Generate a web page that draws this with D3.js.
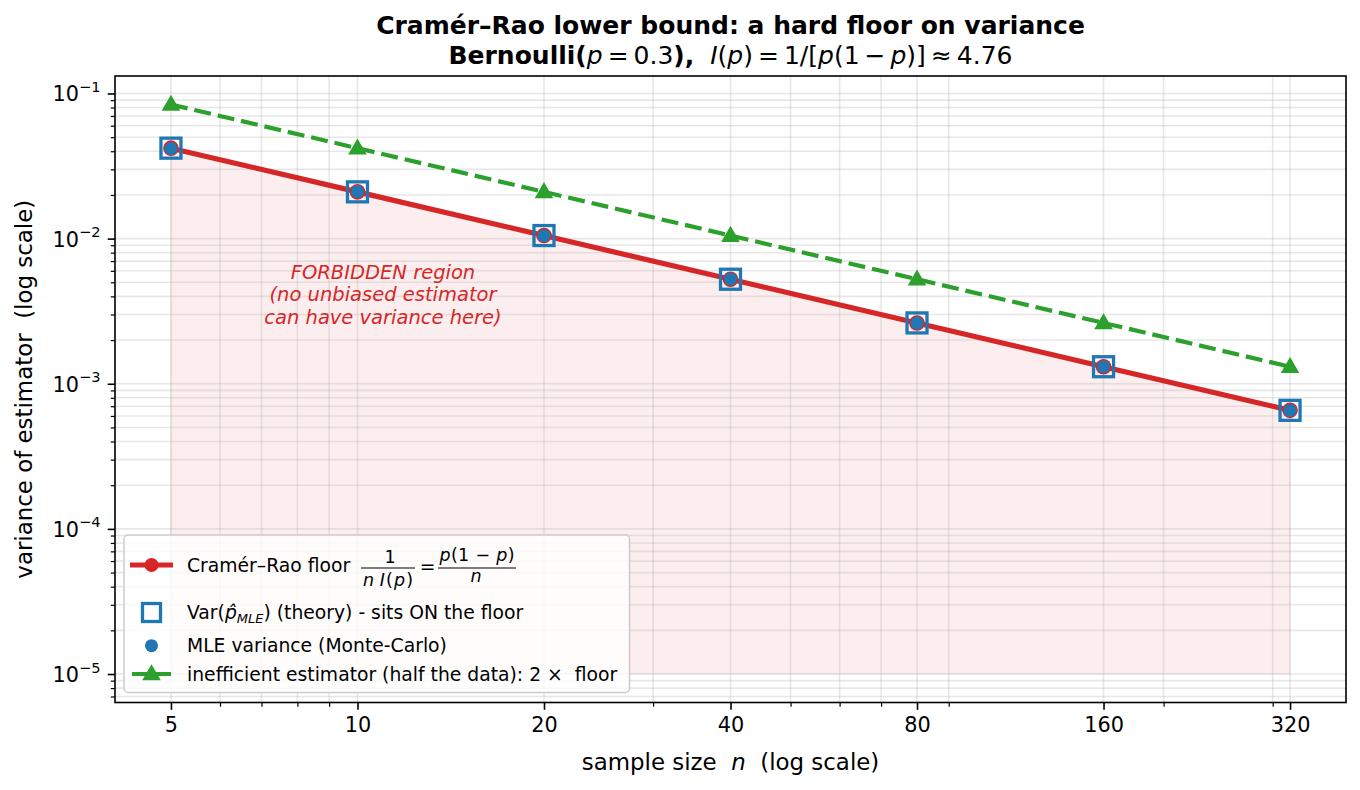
<!DOCTYPE html>
<html>
<head>
<meta charset="utf-8">
<script src="https://cdn.jsdelivr.net/npm/d3@7"></script>
<style>
  body { margin: 0; background: #fff; }
  svg { display: block; font-family: "DejaVu Sans", sans-serif; }
  text { white-space: pre; }
</style>
</head>
<body>
<script>
// values
var sampleSizes = [5, 10, 20, 40, 80, 160, 320];
var floorVariance = [0.042, 0.021, 0.0105, 0.00525, 0.002625, 0.00131, 0.000656];
var theoryVariance = [0.042, 0.021, 0.0105, 0.00525, 0.002625, 0.00131, 0.000656];
var monteCarloVariance = [0.0417, 0.0211, 0.01048, 0.00526, 0.00262, 0.00131, 0.000655];
var inefficientVariance = [0.084, 0.042, 0.021, 0.0105, 0.00525, 0.002625, 0.00131];
var forbiddenBottom = 1e-5;
var xTickLabels = ["5", "10", "20", "40", "80", "160", "320"];
var yTickExponents = [-1, -2, -3, -4, -5];

var RED = "#d62728", BLUE = "#1f77b4", GREEN = "#2ca02c";

var svgWidth = 1360, svgHeight = 790;
var plot = { left: 115, right: 1346, top: 76, bottom: 702.5 };

var svg = d3.select("body").append("svg")
    .attr("width", svgWidth)
    .attr("height", svgHeight);

// log axes with a 5% margin (in log space) like matplotlib
var xLo = d3.min(sampleSizes), xHi = d3.max(sampleSizes);
var xPad = 0.05 * (Math.log2(xHi) - Math.log2(xLo));
var x = d3.scaleLog().base(2)
    .domain([xLo / Math.pow(2, xPad), xHi * Math.pow(2, xPad)])
    .range([plot.left, plot.right]);

var yLo = forbiddenBottom, yHi = d3.max(inefficientVariance);
var yPad = 0.05 * (Math.log10(yHi) - Math.log10(yLo));
var y = d3.scaleLog()
    .domain([yLo / Math.pow(10, yPad), yHi * Math.pow(10, yPad)])
    .range([plot.bottom, plot.top]);

var floorData = sampleSizes.map((n, i) => ({ n: n, v: floorVariance[i] }));
var theoryData = sampleSizes.map((n, i) => ({ n: n, v: theoryVariance[i] }));
var mcData = sampleSizes.map((n, i) => ({ n: n, v: monteCarloVariance[i] }));
var ineffData = sampleSizes.map((n, i) => ({ n: n, v: inefficientVariance[i] }));

// minor tick positions (2..9 per decade)
var xMinor = [], yMinor = [];
for (var e = 0; e <= 3; e++) {
  for (var k = 2; k <= 9; k++) {
    var v = k * Math.pow(10, e);
    if (v > x.domain()[0] && v < x.domain()[1] && sampleSizes.indexOf(v) < 0) xMinor.push(v);
  }
}
for (var e2 = -6; e2 <= -1; e2++) {
  for (var k2 = 2; k2 <= 9; k2++) {
    var w = k2 * Math.pow(10, e2);
    if (w > y.domain()[0] && w < y.domain()[1]) yMinor.push(w);
  }
}
var yMajor = yTickExponents.map(p => Math.pow(10, p));

// forbidden region (below the floor)
var area = d3.area()
    .x(d => x(d.n))
    .y0(y(forbiddenBottom))
    .y1(d => y(d.v));
svg.append("path")
    .datum(floorData)
    .attr("d", area)
    .attr("fill", RED)
    .attr("fill-opacity", 0.08)
    .attr("stroke", RED)
    .attr("stroke-opacity", 0.08)
    .attr("stroke-width", 1.5);

// grid, major and minor
var grid = svg.append("g").attr("stroke", "#b0b0b0").attr("stroke-opacity", 0.3).attr("stroke-width", 1.6);
grid.selectAll(".gx").data(sampleSizes.concat(xMinor)).enter().append("line")
    .attr("x1", d => x(d)).attr("x2", d => x(d))
    .attr("y1", plot.top).attr("y2", plot.bottom);
grid.selectAll(".gy").data(yMajor.concat(yMinor)).enter().append("line")
    .attr("y1", d => y(d)).attr("y2", d => y(d))
    .attr("x1", plot.left).attr("x2", plot.right);

// annotation
var note = svg.append("text")
    .attr("text-anchor", "middle")
    .attr("font-size", 19.5)
    .attr("font-style", "italic")
    .attr("fill", RED);
["FORBIDDEN region", "(no unbiased estimator", "can have variance here)"].forEach(function (s, i) {
  note.append("tspan").attr("x", 383).attr("y", 279 + i * 22.3).text(s);
});

var line = d3.line().x(d => x(d.n)).y(d => y(d.v));

// inefficient estimator
svg.append("path")
    .datum(ineffData)
    .attr("d", line)
    .attr("fill", "none")
    .attr("stroke", GREEN)
    .attr("stroke-width", 4.2)
    .attr("stroke-dasharray", "17,7");
var tri = d3.symbol().type(d3.symbolTriangle).size(150);
svg.selectAll(".tri").data(ineffData).enter().append("path")
    .attr("d", tri)
    .attr("transform", d => `translate(${x(d.n)},${y(d.v) + 1})`)
    .attr("fill", GREEN);

// Cramer-Rao floor
svg.append("path")
    .datum(floorData)
    .attr("d", line)
    .attr("fill", "none")
    .attr("stroke", RED)
    .attr("stroke-width", 5.2);
svg.selectAll(".fc").data(floorData).enter().append("circle")
    .attr("cx", d => x(d.n)).attr("cy", d => y(d.v))
    .attr("r", 7.8)
    .attr("fill", RED);

// theory squares
svg.selectAll(".sq").data(theoryData).enter().append("rect")
    .attr("x", d => x(d.n) - 10).attr("y", d => y(d.v) - 10)
    .attr("width", 20).attr("height", 20)
    .attr("fill", "none")
    .attr("stroke", BLUE)
    .attr("stroke-width", 3.3);

// Monte-Carlo dots
svg.selectAll(".mc").data(mcData).enter().append("circle")
    .attr("cx", d => x(d.n)).attr("cy", d => y(d.v))
    .attr("r", 6.5)
    .attr("fill", BLUE);

// axes
var xAxis = svg.append("g")
    .attr("transform", `translate(0,${plot.bottom})`)
    .call(d3.axisBottom(x).tickValues(sampleSizes).tickSize(7.3).tickPadding(7)
        .tickFormat((d, i) => xTickLabels[i]));
var xMinorAxis = svg.append("g")
    .attr("transform", `translate(0,${plot.bottom})`)
    .call(d3.axisBottom(x).tickValues(xMinor).tickSize(4.2).tickFormat(""));
var yAxis = svg.append("g")
    .attr("transform", `translate(${plot.left},0)`)
    .call(d3.axisLeft(y).tickValues(yMajor).tickSize(7.3).tickFormat(""));
var yMinorAxis = svg.append("g")
    .attr("transform", `translate(${plot.left},0)`)
    .call(d3.axisLeft(y).tickValues(yMinor).tickSize(4.2).tickFormat(""));

[xAxis, xMinorAxis, yAxis, yMinorAxis].forEach(function (g) {
  g.select(".domain").remove();
  g.selectAll("line").attr("stroke", "#000");
});
xAxis.selectAll("line").attr("stroke-width", 1.6);
yAxis.selectAll("line").attr("stroke-width", 1.6);
xMinorAxis.selectAll("line").attr("stroke-width", 1.2);
yMinorAxis.selectAll("line").attr("stroke-width", 1.2);
xAxis.selectAll("text")
    .attr("font-family", "DejaVu Sans")
    .attr("font-size", 20.8)
    .attr("fill", "#000");

// y tick labels as 10^k
yTickExponents.forEach(function (p) {
  var t = svg.append("text")
      .attr("x", 100.5)
      .attr("y", y(Math.pow(10, p)) + 8)
      .attr("text-anchor", "end")
      .attr("font-size", 20.8);
  t.append("tspan").text("10");
  t.append("tspan").attr("dy", -9.5).attr("font-size", 14.6).text("\u2212" + Math.abs(p));
});

// frame
svg.append("rect")
    .attr("x", plot.left).attr("y", plot.top)
    .attr("width", plot.right - plot.left)
    .attr("height", plot.bottom - plot.top)
    .attr("fill", "none")
    .attr("stroke", "#000")
    .attr("stroke-width", 1.6);

// axis labels
var xl = svg.append("text")
    .attr("x", (plot.left + plot.right) / 2)
    .attr("y", 770)
    .attr("text-anchor", "middle")
    .attr("font-size", 22.9);
xl.append("tspan").text("sample size  ");
xl.append("tspan").attr("font-style", "italic").text("n");
xl.append("tspan").text("  (log scale)");

svg.append("text")
    .attr("transform", `translate(32,${(plot.top + plot.bottom) / 2}) rotate(-90)`)
    .attr("text-anchor", "middle")
    .attr("font-size", 22.9)
    .text("variance of estimator  (log scale)");

// title
svg.append("text")
    .attr("x", (plot.left + plot.right) / 2)
    .attr("y", 34)
    .attr("text-anchor", "middle")
    .attr("font-size", 25)
    .attr("font-weight", "bold")
    .text("Cram\u00e9r\u2013Rao lower bound: a hard floor on variance");

var t2 = svg.append("text")
    .attr("x", (plot.left + plot.right) / 2)
    .attr("y", 64)
    .attr("text-anchor", "middle")
    .attr("font-size", 25);
[["Bernoulli(", "b"], ["p", "i"], ["\u2009=\u20090.3", "n"], ["),", "b"], ["  ", "n"],
 ["I", "i"], ["(", "n"], ["p", "i"], [")\u2009=\u20091/[", "n"], ["p", "i"], ["(1\u2009\u2212\u2009", "n"],
 ["p", "i"], [")]\u2009\u2248\u20094.76", "n"]].forEach(function (s) {
  var ts = t2.append("tspan").text(s[0]);
  if (s[1] === "b") ts.attr("font-weight", "bold");
  if (s[1] === "i") ts.attr("font-style", "italic");
});

// legend
var leg = svg.append("g");
leg.append("rect")
    .attr("x", 124).attr("y", 535)
    .attr("width", 505.5).attr("height", 157.5)
    .attr("rx", 4)
    .attr("fill", "#fff").attr("fill-opacity", 0.8)
    .attr("stroke", "#cccccc").attr("stroke-width", 1.5);

var hx = 151.5, tx = 187;
// row 1 : floor
leg.append("line").attr("x1", 130).attr("x2", 173).attr("y1", 565).attr("y2", 565)
    .attr("stroke", RED).attr("stroke-width", 5.2);
leg.append("circle").attr("cx", hx).attr("cy", 565).attr("r", 7).attr("fill", RED);
leg.append("text").attr("x", tx).attr("y", 572).attr("font-size", 18.75).text("Cram\u00e9r\u2013Rao floor");
var fs = 17.5;
leg.append("text").attr("x", 390).attr("y", 563).attr("text-anchor", "middle").attr("font-size", fs).text("1");
leg.append("line").attr("x1", 361).attr("x2", 415).attr("y1", 568).attr("y2", 568).attr("stroke", "#000").attr("stroke-width", 1.1);
var den = leg.append("text").attr("x", 388).attr("y", 586).attr("text-anchor", "middle").attr("font-size", fs)
    .attr("textLength", 50).attr("lengthAdjust", "spacing");
den.append("tspan").attr("font-style", "italic").text("n\u2009");
den.append("tspan").attr("font-style", "italic").text("I");
den.append("tspan").text("(");
den.append("tspan").attr("font-style", "italic").text("p");
den.append("tspan").text(")");
leg.append("text").attr("x", 427.5).attr("y", 573).attr("text-anchor", "middle").attr("font-size", 18.75).text("=");
var num = leg.append("text").attr("x", 477).attr("y", 561).attr("text-anchor", "middle").attr("font-size", fs)
    .attr("textLength", 75).attr("lengthAdjust", "spacing");
num.append("tspan").attr("font-style", "italic").text("p");
num.append("tspan").text("(1 \u2212 ");
num.append("tspan").attr("font-style", "italic").text("p");
num.append("tspan").text(")");
leg.append("line").attr("x1", 438).attr("x2", 516).attr("y1", 568).attr("y2", 568).attr("stroke", "#000").attr("stroke-width", 1.1);
leg.append("text").attr("x", 476).attr("y", 582).attr("text-anchor", "middle").attr("font-size", fs).attr("font-style", "italic").text("n");

// row 2 : theory square
leg.append("rect").attr("x", hx - 9).attr("y", 612.5 - 9).attr("width", 18).attr("height", 18)
    .attr("fill", "none").attr("stroke", BLUE).attr("stroke-width", 3.3);
var r2 = leg.append("text").attr("x", tx).attr("y", 619).attr("font-size", 18.75);
r2.append("tspan").text("Var(");
r2.append("tspan").attr("font-style", "italic").text("p\u0302");
r2.append("tspan").attr("font-style", "italic").attr("font-size", 13).attr("dy", 4).text("MLE");
r2.append("tspan").attr("dy", -4).text(") (theory) - sits ON the floor");

// row 3 : MC dot
leg.append("circle").attr("cx", hx).attr("cy", 645.7).attr("r", 6.5).attr("fill", BLUE);
leg.append("text").attr("x", tx).attr("y", 652).attr("font-size", 18.75).text("MLE variance (Monte-Carlo)");

// row 4 : inefficient
leg.append("line").attr("x1", 132).attr("x2", 171).attr("y1", 674).attr("y2", 674)
    .attr("stroke", GREEN).attr("stroke-width", 4.2);
leg.append("path").attr("d", tri).attr("transform", `translate(${hx},675)`).attr("fill", GREEN);
leg.append("text").attr("x", tx).attr("y", 681).attr("font-size", 18.75)
    .text("inefficient estimator (half the data): 2 \u00d7  floor");
</script>
</body>
</html>
